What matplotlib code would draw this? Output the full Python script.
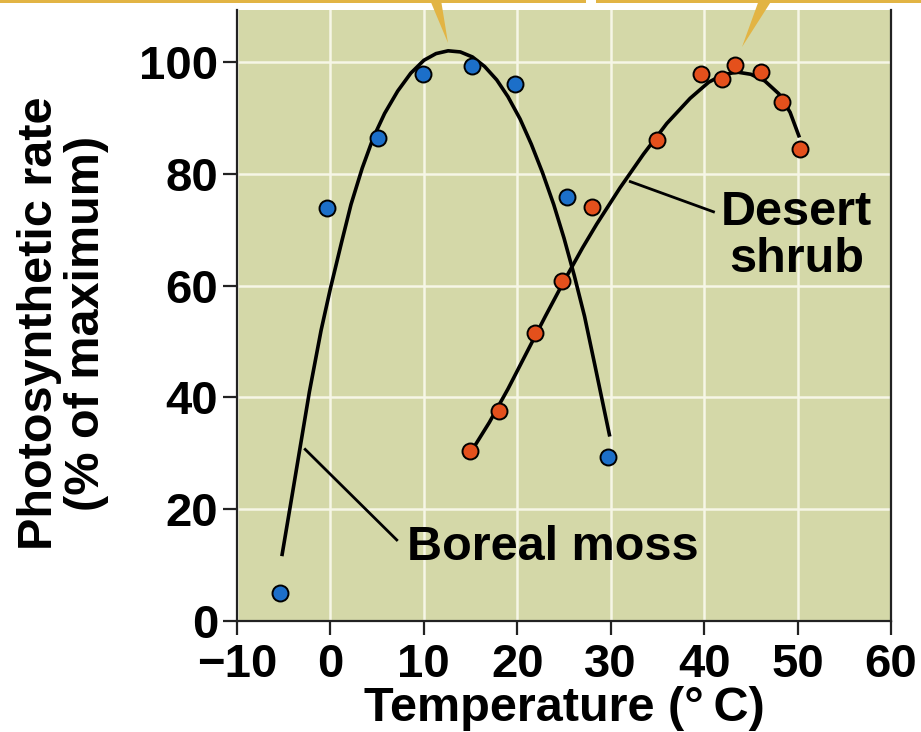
import matplotlib
matplotlib.use('Agg')
import matplotlib.pyplot as plt
from matplotlib.patches import Polygon, Rectangle

plt.rcParams['font.family'] = ['Liberation Sans', 'DejaVu Sans']
plt.rcParams['font.weight'] = 'bold'

# ---- measured points ----
moss_temp = [-5.4, -0.4, 5.1, 9.9, 15.1, 19.8, 25.3, 29.7]
moss_rate = [5.0, 73.8, 86.4, 97.9, 99.3, 96.1, 75.9, 29.3]

shrub_temp = [14.9, 18.0, 21.9, 24.8, 28.0, 35.0, 39.7, 41.9, 43.3, 46.1, 48.3, 50.3]
shrub_rate = [30.4, 37.5, 51.6, 60.9, 74.1, 86.1, 97.9, 97.0, 99.5, 98.2, 92.9, 84.5]

# ---- fitted curves ----
moss_fit_temp = [-5.2, -4.1, -2.25, -1.0, 0.0, 1.2, 2.2, 3.4, 4.6, 5.8, 7.2, 8.6, 10.0,
                 11.3, 12.6, 13.9, 15.2, 16.5, 17.8, 19.0, 20.3, 21.5, 22.7, 23.9,
                 25.0, 26.1, 27.2, 28.3, 29.9]
moss_fit_rate = [11.6, 22.5, 41.0, 52.0, 59.5, 67.8, 74.5, 81.0, 86.5, 90.8, 94.8, 98.0, 100.3,
                 101.5, 102.0, 101.8, 100.9, 99.2, 96.8, 93.8, 89.8, 85.3, 80.2, 74.5,
                 68.5, 61.8, 54.5, 45.8, 33.0]

shrub_fit_temp = [15.1, 17.0, 19.0, 21.0, 23.0, 25.0, 27.0, 28.5, 31.0, 33.5, 36.0,
                  38.5, 40.5, 42.0, 43.5, 45.0, 46.5, 48.0, 49.2, 50.2]
shrub_fit_rate = [30.4, 35.5, 41.5, 48.0, 54.5, 60.8, 66.8, 71.0, 77.5, 83.5, 89.0,
                  93.5, 96.4, 97.7, 98.2, 97.8, 96.6, 94.3, 91.0, 86.5]

x_ticks = [-10, 0, 10, 20, 30, 40, 50, 60]
x_labels = ['\u221210', '0', '10', '20', '30', '40', '50', '60']
y_ticks = [0, 20, 40, 60, 80, 100]
y_labels = ['0', '20', '40', '60', '80', '100']

W, H = 921, 732
fig = plt.figure(figsize=(W / 100, H / 100), dpi=100)
ax = fig.add_axes([237 / W, 1 - 621 / H, (891 - 237) / W, (621 - 10) / H])

ax.set_facecolor('#d4d8a8')
ax.set_xlim(-10, 60)
ax.set_ylim(0, 109.3)
ax.set_xticks(x_ticks)
ax.set_xticklabels(x_labels)
ax.set_yticks(y_ticks)
ax.set_yticklabels(y_labels)
ax.grid(True, color='#f6f6e6', linewidth=1.8, zorder=0)
ax.set_axisbelow(True)

ax.spines['top'].set_visible(False)
for s in ['left', 'right', 'bottom']:
    ax.spines[s].set_linewidth(1.6)
    ax.spines[s].set_color('#222222')

ax.tick_params(axis='both', direction='out', length=10, width=1.6, labelsize=34, color='#222222')
ax.tick_params(axis='x', pad=6)
ax.tick_params(axis='y', pad=3.5)
for lab in ax.get_xticklabels() + ax.get_yticklabels():
    lab.set_fontweight('bold')

# curves
ax.plot(moss_fit_temp, moss_fit_rate, color='black', linewidth=2.6, zorder=3,
        solid_capstyle='butt', solid_joinstyle='round')
ax.plot(shrub_fit_temp, shrub_fit_rate, color='black', linewidth=2.6, zorder=3,
        solid_capstyle='butt', solid_joinstyle='round')

# points
ax.plot(moss_temp, moss_rate, 'o', color='#1c6fc9', markeredgecolor='black',
        markeredgewidth=1.4, markersize=11.5, zorder=4, clip_on=False)
ax.plot(shrub_temp, shrub_rate, 'o', color='#e4501c', markeredgecolor='black',
        markeredgewidth=1.4, markersize=11.5, zorder=4, clip_on=False)

# labels with pointer lines
ax.plot([-2.7, 7.1], [30.7, 14.5], color='black', linewidth=2.0, zorder=3)
ax.text(8.2, 10.9, 'Boreal moss', fontsize=35, fontweight='bold', ha='left', va='baseline')

ax.plot([32.1, 41.0], [78.6, 73.2], color='black', linewidth=2.0, zorder=3)
ax.text(49.9, 70.8, 'Desert', fontsize=35, fontweight='bold', ha='center', va='baseline')
ax.text(49.9, 62.4, 'shrub', fontsize=35, fontweight='bold', ha='center', va='baseline')

ax.set_xlabel('Temperature (\u00b0\u2009C)', fontsize=35, fontweight='bold')
ax.xaxis.set_label_coords(0.5, -0.107)
ax.set_ylabel('Photosynthetic rate\n(% of maximum)', fontsize=35, fontweight='bold',
              linespacing=1.08)
ax.yaxis.set_label_coords(-0.195, 0.487)

# cropped call-out boxes along the top edge
gold = '#e2b444'
def px(x, y):
    return (x / W, 1 - y / H)

fig.add_artist(Rectangle(px(0, 3), 586 / W, 3 / H, transform=fig.transFigure,
                         color=gold, lw=0))
fig.add_artist(Rectangle(px(596, 3), (W - 596) / W, 3 / H, transform=fig.transFigure,
                         color=gold, lw=0))
fig.add_artist(Polygon([px(430, 0), px(441, 0), px(448, 43)], closed=True,
                       transform=fig.transFigure, color=gold, lw=0))
fig.add_artist(Polygon([px(759, 0), px(772, 0), px(742, 47)], closed=True,
                       transform=fig.transFigure, color=gold, lw=0))

fig.savefig('out.png', dpi=100)
